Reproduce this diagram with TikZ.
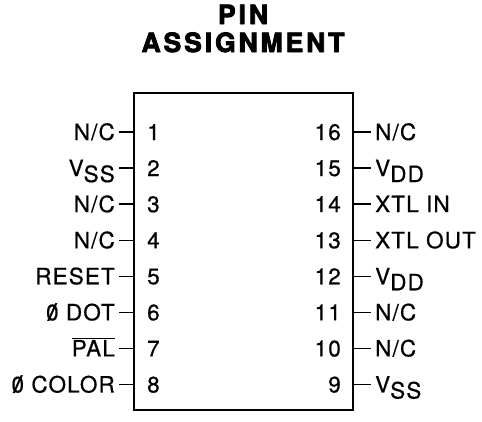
\documentclass[tikz,border=0pt]{standalone}
\usepackage{fontspec}
\setmainfont{TeX Gyre Heros}[LetterSpace=5,FakeBold=0.6]
\newfontfamily\titlefont{TeX Gyre Heros}[FakeBold=3,LetterSpace=11]
\newcommand{\slz}{\ooalign{0\cr\hidewidth\scalebox{1.5}[1.05]{/}\hidewidth\cr}}
\newcommand{\sbs}[1]{\raisebox{-6pt}{#1}}
\begin{document}
\begin{tikzpicture}[x=1pt,y=-1pt,
  lbl/.style={font=\fontsize{22.5}{24}\selectfont, inner sep=0pt},
  lpin/.style={lbl, anchor=base east},
  rpin/.style={lbl, anchor=base west},
  lnum/.style={lbl, anchor=base west},
  rnum/.style={lbl, anchor=base east},
  tick/.style={line width=1.3pt},
  chip/.style={draw, line width=2.8pt, inner sep=0pt, minimum width=219pt, minimum height=317pt},
  title/.style={font=\titlefont\bfseries\fontsize{26.5}{28}\selectfont, inner sep=0pt, anchor=base}]
\useasboundingbox (0,0) rectangle (482,421);
\node[title] (t1) at (243,24) {PIN};
\node[title] (t2) at (243,52) {ASSIGNMENT};
\node[chip] (ic) at (243.5,251.5) {};
% left side
\foreach \i/\txt in {1/{N/C},2/{V\sbs{SS}},3/{N/C},4/{N/C},5/{RESET},6/{\slz{} DOT},7/{$\overline{\mbox{PAL}}$},8/{\slz{} COLOR}}{
  \pgfmathsetmacro{\yy}{132+36.07*(\i-1)}
  \coordinate (lc\i) at (134,\yy);
  \coordinate (lo\i) at (119,\yy);
  \draw[tick] (lo\i) -- (lc\i);
  \node[lpin] (ll\i) at (115,\yy+8) {\txt};
  \node[lnum] (ln\i) at (147,\yy+8) {\i};
}
% right side
\foreach \i/\n/\txt in {1/16/{N/C},2/15/{V\sbs{DD}},3/14/{XTL IN},4/13/{XTL OUT},5/12/{V\sbs{DD}},6/11/{N/C},7/10/{N/C},8/9/{V\sbs{SS}}}{
  \pgfmathsetmacro{\yy}{132+36.07*(\i-1)}
  \coordinate (rc\i) at (353,\yy);
  \coordinate (ro\i) at (371,\yy);
  \draw[tick] (rc\i) -- (ro\i);
  \node[rpin] (rl\i) at (375,\yy+8) {\txt};
  \node[rnum] (rn\i) at (341,\yy+8) {\n};
}
\end{tikzpicture}
\end{document}
